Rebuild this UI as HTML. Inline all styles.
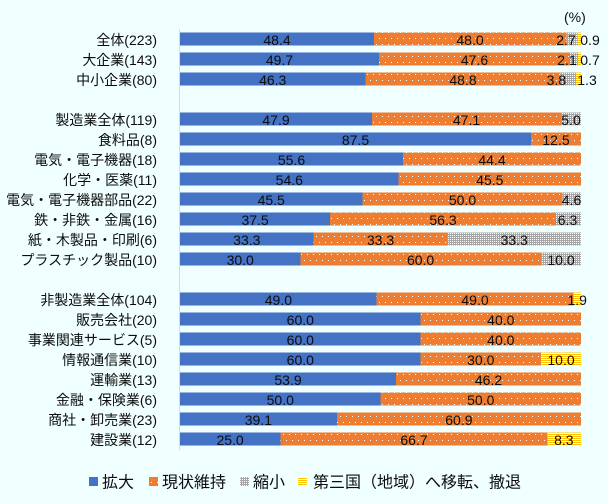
<!DOCTYPE html>
<html><head><meta charset="utf-8">
<style>
html,body{margin:0;padding:0;background:#F0FFFF;}
svg{display:block;}
text{font-family:"Liberation Sans","Noto Sans CJK JP",sans-serif;fill:#0d0d0d;}
.v{font-size:14px;text-anchor:middle;}
.l{font-size:14px;text-anchor:end;}
.g{font-size:16px;}
</style></head>
<body>
<svg width="608" height="504" viewBox="0 0 608 504" xmlns="http://www.w3.org/2000/svg">
<defs>
<pattern id="dots" width="6" height="12" patternUnits="userSpaceOnUse">
<rect width="6" height="12" fill="#ED7D31"/>
<rect x="1" y="2" width="1" height="1" fill="#fff"/>
<rect x="4" y="8" width="1" height="1" fill="#fff"/>
</pattern>
<pattern id="gray" width="2" height="2" patternUnits="userSpaceOnUse">
<rect width="2" height="2" fill="#A5A5A5"/>
<rect x="0" y="1" width="1" height="1" fill="#fff"/>
</pattern>
<pattern id="yel" width="2" height="2" patternUnits="userSpaceOnUse">
<rect width="2" height="2" fill="#FFC000"/>
<rect x="0" y="1" width="2" height="1" fill="#fff"/>
</pattern>
</defs>
<rect width="608" height="504" fill="#F0FFFF"/>
<line x1="179.5" y1="29" x2="179.5" y2="450" stroke="#D9D9D9" stroke-width="1"/>
<text x="564" y="22" style="font-size:14px">(%)</text>

<g shape-rendering="crispEdges">
<!-- row0 y=32 -->
<rect x="180" y="32.3" width="194.08" height="13.4" fill="#4472C4"/>
<rect x="374.08" y="32.3" width="192.48" height="13.4" fill="url(#dots)"/>
<rect x="566.56" y="32.3" width="10.83" height="13.4" fill="url(#gray)"/>
<rect x="577.39" y="32.3" width="3.61" height="13.4" fill="url(#yel)"/>
<!-- row1 -->
<rect x="180" y="52.3" width="199.1" height="13.4" fill="#4472C4"/>
<rect x="379.1" y="52.3" width="190.7" height="13.4" fill="url(#dots)"/>
<rect x="569.8" y="52.3" width="8.4" height="13.4" fill="url(#gray)"/>
<rect x="578.2" y="52.3" width="2.8" height="13.4" fill="url(#yel)"/>
<!-- row2 -->
<rect x="180" y="72.3" width="185.3" height="13.4" fill="#4472C4"/>
<rect x="365.3" y="72.3" width="195.3" height="13.4" fill="url(#dots)"/>
<rect x="560.6" y="72.3" width="15.2" height="13.4" fill="url(#gray)"/>
<rect x="575.8" y="72.3" width="5.2" height="13.4" fill="url(#yel)"/>
<!-- row4 -->
<rect x="180" y="112.3" width="192.1" height="13.4" fill="#4472C4"/>
<rect x="372.1" y="112.3" width="188.85" height="13.4" fill="url(#dots)"/>
<rect x="560.95" y="112.3" width="20.05" height="13.4" fill="url(#gray)"/>
<!-- row5 -->
<rect x="180" y="132.3" width="350.9" height="13.4" fill="#4472C4"/>
<rect x="530.9" y="132.3" width="50.1" height="13.4" fill="url(#dots)"/>
<!-- row6 -->
<rect x="180" y="152.3" width="222.96" height="13.4" fill="#4472C4"/>
<rect x="402.96" y="152.3" width="178.04" height="13.4" fill="url(#dots)"/>
<!-- row7 -->
<rect x="180" y="172.3" width="218.7" height="13.4" fill="#4472C4"/>
<rect x="398.7" y="172.3" width="182.3" height="13.4" fill="url(#dots)"/>
<!-- row8 -->
<rect x="180" y="192.3" width="182.3" height="13.4" fill="#4472C4"/>
<rect x="362.3" y="192.3" width="200.3" height="13.4" fill="url(#dots)"/>
<rect x="562.6" y="192.3" width="18.4" height="13.4" fill="url(#gray)"/>
<!-- row9 -->
<rect x="180" y="212.3" width="150.2" height="13.4" fill="#4472C4"/>
<rect x="330.2" y="212.3" width="225.6" height="13.4" fill="url(#dots)"/>
<rect x="555.8" y="212.3" width="25.2" height="13.4" fill="url(#gray)"/>
<!-- row10 -->
<rect x="180" y="232.3" width="133.67" height="13.4" fill="#4472C4"/>
<rect x="313.67" y="232.3" width="133.66" height="13.4" fill="url(#dots)"/>
<rect x="447.33" y="232.3" width="133.67" height="13.4" fill="url(#gray)"/>
<!-- row11 -->
<rect x="180" y="252.3" width="120.3" height="13.4" fill="#4472C4"/>
<rect x="300.3" y="252.3" width="240.6" height="13.4" fill="url(#dots)"/>
<rect x="540.9" y="252.3" width="40.1" height="13.4" fill="url(#gray)"/>
<!-- row13 -->
<rect x="180" y="292.3" width="196.7" height="13.4" fill="#4472C4"/>
<rect x="376.7" y="292.3" width="196.7" height="13.4" fill="url(#dots)"/>
<rect x="573.4" y="292.3" width="7.6" height="13.4" fill="url(#yel)"/>
<!-- row14 -->
<rect x="180" y="312.3" width="240.6" height="13.4" fill="#4472C4"/>
<rect x="420.6" y="312.3" width="160.4" height="13.4" fill="url(#dots)"/>
<!-- row15 -->
<rect x="180" y="332.3" width="240.6" height="13.4" fill="#4472C4"/>
<rect x="420.6" y="332.3" width="160.4" height="13.4" fill="url(#dots)"/>
<!-- row16 -->
<rect x="180" y="352.3" width="240.6" height="13.4" fill="#4472C4"/>
<rect x="420.6" y="352.3" width="120.3" height="13.4" fill="url(#dots)"/>
<rect x="540.9" y="352.3" width="40.1" height="13.4" fill="url(#yel)"/>
<!-- row17 -->
<rect x="180" y="372.3" width="215.9" height="13.4" fill="#4472C4"/>
<rect x="395.9" y="372.3" width="185.1" height="13.4" fill="url(#dots)"/>
<!-- row18 -->
<rect x="180" y="392.3" width="200.5" height="13.4" fill="#4472C4"/>
<rect x="380.5" y="392.3" width="200.5" height="13.4" fill="url(#dots)"/>
<!-- row19 -->
<rect x="180" y="412.3" width="156.8" height="13.4" fill="#4472C4"/>
<rect x="336.8" y="412.3" width="244.2" height="13.4" fill="url(#dots)"/>
<!-- row20 -->
<rect x="180" y="432.3" width="100.25" height="13.4" fill="#4472C4"/>
<rect x="280.25" y="432.3" width="267.47" height="13.4" fill="url(#dots)"/>
<rect x="547.72" y="432.3" width="33.28" height="13.4" fill="url(#yel)"/>
</g>

<!-- left labels -->
<text class="l" x="157" y="45">全体(223)</text>
<text class="l" x="157" y="65">大企業(143)</text>
<text class="l" x="157" y="85">中小企業(80)</text>
<text class="l" x="157" y="125">製造業全体(119)</text>
<text class="l" x="157" y="145">食料品(8)</text>
<text class="l" x="157" y="165">電気・電子機器(18)</text>
<text class="l" x="157" y="185">化学・医薬(11)</text>
<text class="l" x="157" y="205">電気・電子機器部品(22)</text>
<text class="l" x="157" y="225">鉄・非鉄・金属(16)</text>
<text class="l" x="157" y="245">紙・木製品・印刷(6)</text>
<text class="l" x="157" y="265">プラスチック製品(10)</text>
<text class="l" x="157" y="305">非製造業全体(104)</text>
<text class="l" x="157" y="325">販売会社(20)</text>
<text class="l" x="157" y="345">事業関連サービス(5)</text>
<text class="l" x="157" y="365">情報通信業(10)</text>
<text class="l" x="157" y="385">運輸業(13)</text>
<text class="l" x="157" y="405">金融・保険業(6)</text>
<text class="l" x="157" y="425">商社・卸売業(23)</text>
<text class="l" x="157" y="445">建設業(12)</text>

<!-- values -->
<text class="v" x="277" y="45">48.4</text>
<text class="v" x="470" y="45">48.0</text>
<text class="v" x="566" y="45">2.7</text>
<text class="v" x="590" y="45">0.9</text>

<text class="v" x="279.5" y="65">49.7</text>
<text class="v" x="474.5" y="65">47.6</text>
<text class="v" x="567" y="65">2.1</text>
<text class="v" x="590" y="65">0.7</text>

<text class="v" x="272.7" y="85">46.3</text>
<text class="v" x="463" y="85">48.8</text>
<text class="v" x="556.4" y="85">3.8</text>
<text class="v" x="587" y="85">1.3</text>

<text class="v" x="276" y="125">47.9</text>
<text class="v" x="466.5" y="125">47.1</text>
<text class="v" x="571" y="125">5.0</text>

<text class="v" x="355.5" y="145">87.5</text>
<text class="v" x="556" y="145">12.5</text>

<text class="v" x="291.5" y="165">55.6</text>
<text class="v" x="492" y="165">44.4</text>

<text class="v" x="289.3" y="185">54.6</text>
<text class="v" x="489.8" y="185">45.5</text>

<text class="v" x="271.2" y="205">45.5</text>
<text class="v" x="462.5" y="205">50.0</text>
<text class="v" x="571.5" y="205">4.6</text>

<text class="v" x="255.1" y="225">37.5</text>
<text class="v" x="443" y="225">56.3</text>
<text class="v" x="567.5" y="225">6.3</text>

<text class="v" x="246.8" y="245">33.3</text>
<text class="v" x="380.5" y="245">33.3</text>
<text class="v" x="514.2" y="245">33.3</text>

<text class="v" x="240.2" y="265">30.0</text>
<text class="v" x="420.6" y="265">60.0</text>
<text class="v" x="561" y="265">10.0</text>

<text class="v" x="278.4" y="305">49.0</text>
<text class="v" x="475" y="305">49.0</text>
<text class="v" x="577.2" y="305">1.9</text>

<text class="v" x="300.3" y="325">60.0</text>
<text class="v" x="500.8" y="325">40.0</text>

<text class="v" x="300.3" y="345">60.0</text>
<text class="v" x="500.8" y="345">40.0</text>

<text class="v" x="300.3" y="365">60.0</text>
<text class="v" x="480.75" y="365">30.0</text>
<text class="v" x="561" y="365">10.0</text>

<text class="v" x="288" y="385">53.9</text>
<text class="v" x="488.5" y="385">46.2</text>

<text class="v" x="280.25" y="405">50.0</text>
<text class="v" x="480.75" y="405">50.0</text>

<text class="v" x="258.4" y="425">39.1</text>
<text class="v" x="458.9" y="425">60.9</text>

<text class="v" x="230.1" y="445">25.0</text>
<text class="v" x="414" y="445">66.7</text>
<text class="v" x="563.8" y="445">8.3</text>

<!-- legend -->
<g shape-rendering="crispEdges">
<rect x="89" y="477" width="9" height="9" fill="#4472C4"/>
<rect x="149" y="477" width="9" height="9" fill="url(#dots)"/>
<rect x="240" y="477" width="9" height="9" fill="url(#gray)"/>
<rect x="298" y="477" width="9" height="9" fill="url(#yel)"/>
</g>
<text class="g" x="102" y="487.5">拡大</text>
<text class="g" x="162" y="487.5">現状維持</text>
<text class="g" x="253" y="487.5">縮小</text>
<text class="g" x="313" y="487.5">第三国（地域）へ移転、撤退</text>
</svg>
</body></html>
